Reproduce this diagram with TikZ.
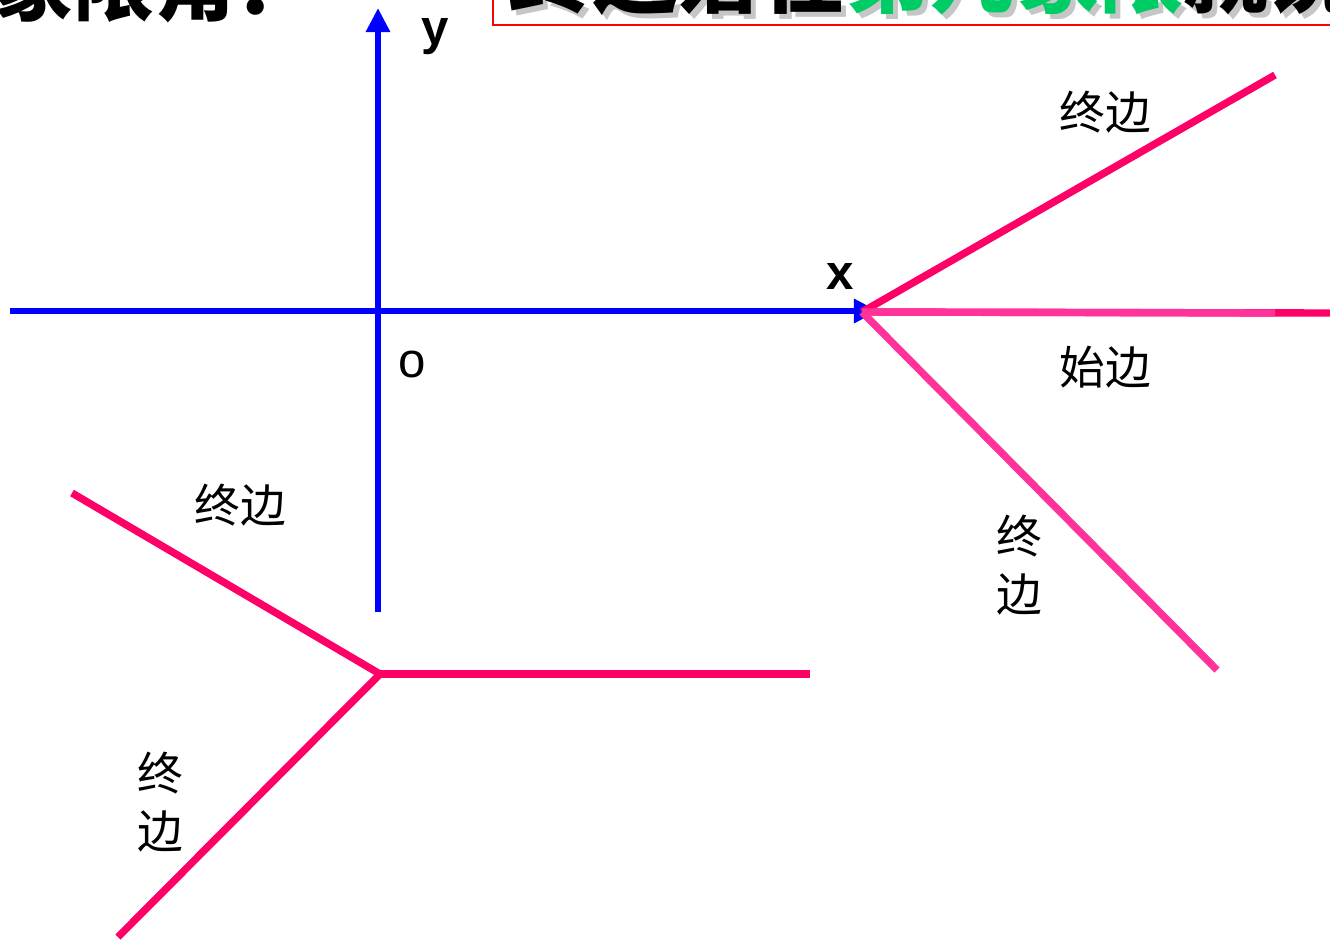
\documentclass[tikz,border=0pt]{standalone}
\usepackage{fontspec}
\setsansfont{Liberation Sans}
\newfontfamily\cjk{Noto Sans CJK SC}
\usetikzlibrary{arrows.meta}
\definecolor{axisblue}{HTML}{0000FF}
\definecolor{sidered}{HTML}{FF0066}
\definecolor{sidepink}{HTML}{FF3399}
\definecolor{titlegreen}{HTML}{00CC66}

\begin{document}
\begin{tikzpicture}[x=0.01cm,y=-0.01cm,
    axis/.style={draw=axisblue,line width=1.7pt,-{Triangle[length=0.24cm,width=0.23cm]}},
    side/.style={draw=sidered,line width=2.1pt},
    sidelight/.style={draw=sidepink,line width=2.1pt},
    lbl/.style={font=\cjk\fontsize{13}{16.5}\selectfont,inner sep=0pt,align=center},
    axlbl/.style={font=\sffamily\bfseries\fontsize{14}{16}\selectfont,inner sep=0pt}]
  \useasboundingbox (0,0) rectangle (1330,941);
  \begin{scope}
    \clip (0,0) rectangle (1330,941);
    % title strip, cut by the top edge
    \node[anchor=south west,inner sep=0pt,font=\cjk\bfseries\fontsize{23}{26}\selectfont] (title) at (-8,24) {象限角：};
    \draw[red,line width=0.6pt] (493,-60) rectangle (1345,25);
    \node[anchor=south west,inner sep=0pt,text=gray!45,font=\cjk\bfseries\fontsize{24}{26}\selectfont] (rule shadow) at (513,21) {终边落在第几象限就说这个角};
    \node[anchor=south west,inner sep=0pt,font=\cjk\bfseries\fontsize{24}{26}\selectfont] (rule) at (508,16) {终边落在\textcolor{titlegreen}{第几象限}就说这个角};

    % axes
    \coordinate (O) at (378,311);
    \coordinate (xleft) at (10,311);
    \coordinate (xright) at (878,311);
    \coordinate (ybottom) at (378,612);
    \coordinate (ytop) at (378,8);
    \draw[axis] (xleft) -- (xright);
    \draw[axis] (ybottom) -- (ytop);
    \node[axlbl] (ylbl) at (435,37) {y};
    \node[axlbl] (xlbl) at (840,276) {x};
    \node[font=\sffamily\fontsize{14}{16}\selectfont,inner sep=0pt] (olbl) at (412,364) {o};

    % angle at the right
    \coordinate (R) at (862,312);
    \coordinate (Rup) at (1275,75);
    \coordinate (Rfar) at (1340,313);
    \coordinate (Rinit) at (1275,313);
    \coordinate (Rdown) at (1217,670);
    \draw[side] (R) -- (Rup);
    \draw[side] (R) -- (Rfar);
    \draw[sidelight] (R) -- (Rinit);
    \draw[sidelight] (R) -- (Rdown);
    \node[lbl] (Rterm) at (1105,112) {终边};
    \node[lbl] (Rstart) at (1105,367) {始边};
    \node[lbl] (Rterm2) at (1019,565) {终\\边};

    % angle at the lower left
    \coordinate (L) at (380,674);
    \coordinate (Lright) at (810,674);
    \coordinate (Lup) at (72,493);
    \coordinate (Ldown) at (118,937);
    \draw[side] (L) -- (Lright);
    \draw[side] (L) -- (Lup);
    \draw[side] (L) -- (Ldown);
    \node[lbl] (Lterm) at (240,505) {终边};
    \node[lbl] (Lterm2) at (160,802) {终\\边};
  \end{scope}
\end{tikzpicture}
\end{document}
